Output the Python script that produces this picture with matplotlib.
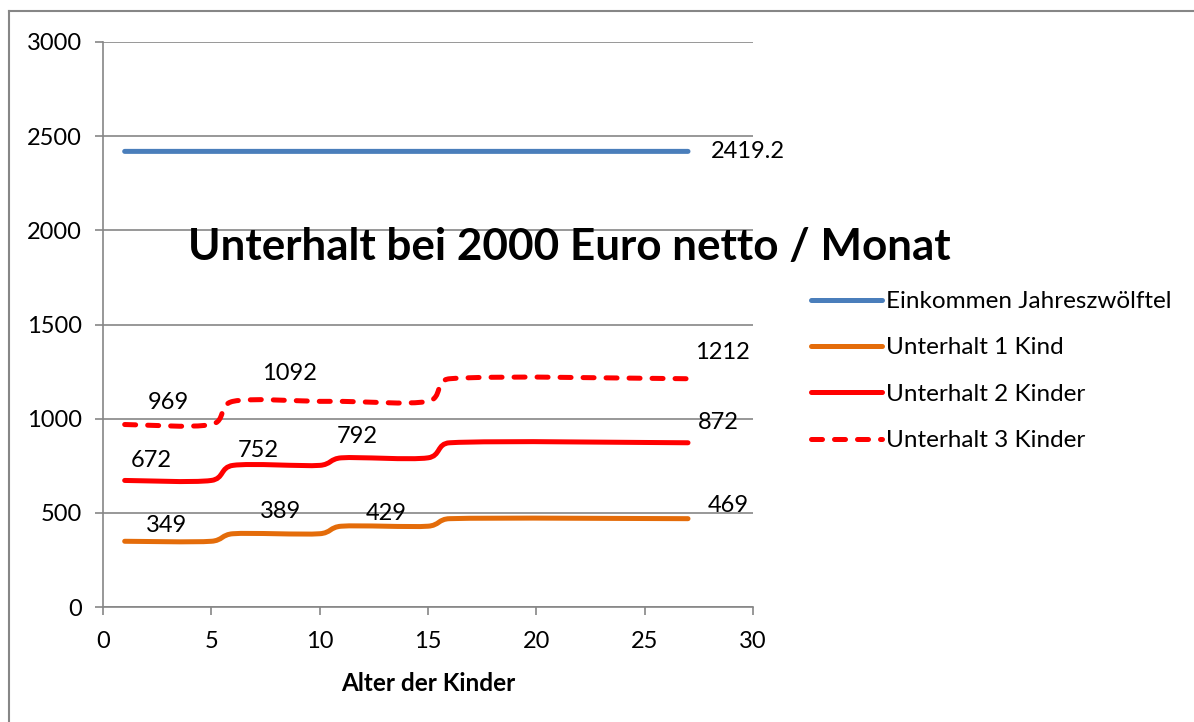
import matplotlib
matplotlib.use("Agg")
import math
import matplotlib.pyplot as plt
from matplotlib.path import Path
from matplotlib.patches import PathPatch
from matplotlib.lines import Line2D

# data
ages = [1, 5, 6, 10, 11, 15, 16, 27]
einkommen = [2419.2, 2419.2, 2419.2, 2419.2, 2419.2, 2419.2, 2419.2, 2419.2]
unterhalt_1 = [349, 349, 389, 389, 429, 429, 469, 469]
unterhalt_2 = [672, 672, 752, 752, 792, 792, 872, 872]
unterhalt_3 = [969, 969, 1092, 1092, 1092, 1092, 1212, 1212]

names = ["Einkommen Jahreszwölftel", "Unterhalt 1 Kind",
         "Unterhalt 2 Kinder", "Unterhalt 3 Kinder"]
series = [einkommen, unterhalt_1, unterhalt_2, unterhalt_3]

# which points carry a data label
labelled = [[7], [0, 2, 4, 7], [0, 2, 4, 7], [0, 2, 7]]

# styling
colors = ["#4A7EBB", "#E46C0A", "#FF0000", "#FF0000"]
dashed = [False, False, False, True]
label_offsets = [
    [(60, 0)],
    [(42, 16), (48, 22), (45, 13), (40, 13)],
    [(27, 20), (25, 15), (16, 21), (30, 20)],
    [(44, 22), (56, 28), (34, 26)],
]

plt.rcParams["font.family"] = ["Lato", "DejaVu Sans"]
GRAY = "#868686"
LW = 3.6
FS = 17


def smooth_path(ax, xs, ys):
    # Excel-style smoothed line: cubic Bezier, tension 1/6, control
    # handles clamped to half the segment length (measured on screen)
    pts = list(zip(xs, ys))
    scr = ax.transData.transform(pts)
    n = len(pts)

    def dist(a, b):
        return math.hypot(scr[a][0] - scr[b][0], scr[a][1] - scr[b][1])

    verts = [pts[0]]
    codes = [Path.MOVETO]
    for i in range(n - 1):
        i0 = i - 1 if i > 0 else i
        i3 = i + 2 if i + 2 < n else i + 1
        d12 = dist(i, i + 1)
        d02 = dist(i0, i + 1)
        d13 = dist(i, i3)
        f1 = 1 / 6 if d02 / 6 < d12 / 2 else d12 / (2 * d02)
        f2 = 1 / 6 if d13 / 6 < d12 / 2 else d12 / (2 * d13)
        p0, p1, p2, p3 = pts[i0], pts[i], pts[i + 1], pts[i3]
        c1 = (p1[0] + f1 * (p2[0] - p0[0]), p1[1] + f1 * (p2[1] - p0[1]))
        c2 = (p2[0] - f2 * (p3[0] - p1[0]), p2[1] - f2 * (p3[1] - p1[1]))
        verts += [c1, c2, p2]
        codes += [Path.CURVE4] * 3
    return Path(verts, codes)


fig = plt.figure(figsize=(11.94, 7.22), dpi=100)
ax = fig.add_axes([103 / 1194, 1 - 607 / 722, 650 / 1194, 565 / 722])

ax.set_xlim(0, 30)
ax.set_ylim(0, 3000)
ax.set_xticks(range(0, 31, 5))
ax.set_yticks(range(0, 3001, 500))
ax.grid(axis="y", color=GRAY, linewidth=1.2)
ax.set_axisbelow(True)
for side in ["top", "right"]:
    ax.spines[side].set_visible(False)
for side in ["left", "bottom"]:
    ax.spines[side].set_color(GRAY)
    ax.spines[side].set_linewidth(1.2)
ax.tick_params(axis="both", colors=GRAY, length=6, width=1.2,
               labelsize=FS, labelcolor="black")
ax.tick_params(axis="y", pad=9)
ax.tick_params(axis="x", pad=11)

handles = []
for vals, name, col, dsh, idxs, offs in zip(series, names, colors, dashed,
                                           labelled, label_offsets):
    patch = PathPatch(smooth_path(ax, ages, vals), fill=False, edgecolor=col,
                      linewidth=LW, capstyle="round", joinstyle="round")
    if dsh:
        patch.set_linestyle((0, (2.2, 2.4)))
    ax.add_patch(patch)
    h = Line2D([], [], color=col, linewidth=LW, solid_capstyle="round",
               dash_capstyle="round", linestyle=(0, (2.2, 2.4)) if dsh else "-")
    handles.append(h)
    for i, (dx, dy) in zip(idxs, offs):
        ax.annotate(f"{vals[i]:g}", (ages[i], vals[i]), xytext=(dx, dy),
                    textcoords="offset pixels", ha="center", va="center",
                    fontsize=FS, color="black")

ax.set_xlabel("Alter der Kinder", fontsize=17.5, fontweight="bold", labelpad=15)

fig.text(569 / 1194, 1 - 247 / 722, "Unterhalt bei 2000 Euro netto / Monat",
         ha="center", va="center", fontsize=31.7, fontweight="bold")

fig.legend(handles, names, loc="upper left",
           bbox_to_anchor=(799 / 1194, 1 - 279 / 722), frameon=False,
           fontsize=17.5, handlelength=2.9, handletextpad=0.2,
           labelspacing=1.04, borderpad=0)

# chart frame (only top and left edges are visible in the original)
fig.add_artist(Line2D([9 / 1194, 9 / 1194], [0, 1 - 11 / 722],
                      transform=fig.transFigure, color=GRAY, linewidth=1.5))
fig.add_artist(Line2D([9 / 1194, 1], [1 - 11 / 722, 1 - 11 / 722],
                      transform=fig.transFigure, color=GRAY, linewidth=1.5))

fig.savefig("out.png", dpi=100)
